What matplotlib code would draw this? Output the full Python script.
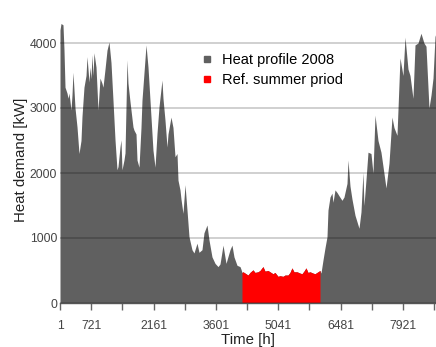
import matplotlib
matplotlib.use("Agg")
import matplotlib.pyplot as plt
from matplotlib.lines import Line2D
import numpy as np

plt.rcParams['font.family'] = ['Liberation Sans', 'DejaVu Sans']

hours = [1, 24, 70, 93, 117, 163, 186, 209, 255, 278, 301, 348, 394, 440, 486, 509,
         555, 602, 625, 671, 694, 717, 740, 763, 786, 833, 879, 925, 971, 994, 1041,
         1087, 1133, 1179, 1225, 1272, 1318, 1341, 1387, 1410, 1433, 1479, 1503, 1549,
         1572, 1618, 1641, 1687, 1710, 1757, 1780, 1826, 1872, 1895, 1941, 1988, 2034,
         2080, 2149, 2196, 2242, 2288, 2357, 2380, 2427, 2473, 2496, 2565, 2611, 2658,
         2704, 2727, 2773, 2796, 2842, 2889, 2935, 2981, 3050, 3096, 3166, 3212, 3281,
         3327, 3397, 3443, 3512, 3582, 3651, 3697, 3767, 3836, 3928, 3974, 4020, 4090,
         4159, 4182,
         4205, 4228, 4275, 4344, 4390, 4459, 4506, 4575, 4621, 4690, 4737, 4806, 4852,
         4921, 4967, 5037, 5083, 5152, 5199, 5268, 5314, 5360, 5406, 5476, 5545, 5591,
         5637, 5684, 5730, 5776, 5845, 5892, 5961, 6007,
         6030, 6076, 6123, 6169, 6192, 6238, 6284, 6307, 6354, 6400, 6446, 6515,
         6561, 6631, 6654, 6700, 6746, 6816, 6862, 6908, 6954, 7000, 7023, 7070, 7116,
         7185, 7231, 7278, 7347, 7416, 7463, 7532, 7601, 7670, 7716, 7786, 7855, 7924,
         7971, 8040, 8086, 8155, 8202, 8271, 8340, 8409, 8456, 8525, 8572, 8618, 8664,
         8687]
demand = [4200, 4300, 4280, 3900, 3320, 3230, 3150, 3230, 2970, 3200, 3550, 3000,
          2710, 2300, 2500, 2870, 3320, 3500, 3790, 3400, 3630, 3450, 3820, 3500, 3850,
          3630, 2970, 3460, 3380, 3320, 3600, 3890, 4015, 3700, 3120, 2510, 2050, 2100,
          2400, 2510, 2050, 2200, 2310, 3740, 3380, 3100, 2970, 2710, 2660, 2600, 2200,
          2090, 2700, 3120, 3540, 3970, 3630, 3120, 2350, 2090, 2610, 3020, 3430, 3150,
          2810, 2400, 2600, 2860, 2700, 2250, 2300, 1890, 1740, 1600, 1380, 1820, 1430,
          1020, 820, 770, 920, 780, 820, 1080, 1200, 970, 710, 610, 560, 600, 890, 610,
          820, 890, 710, 580, 560, 520,
          470, 480, 460, 430, 470, 510, 470, 480, 500, 560, 490, 500, 480, 450, 470,
          410, 420, 410, 430, 430, 470, 540, 480, 480, 460, 450, 490, 540, 470, 480,
          460, 450, 480, 500,
          460, 660, 850, 1020, 1430, 1630, 1690, 1550, 1740, 1700, 1650, 1580, 1630,
          1840, 2200, 1800, 1600, 1350, 1250, 1150, 1400, 2010, 1500, 1900, 2320, 2300,
          2000, 2890, 2500, 2320, 2100, 1770, 2150, 2860, 2700, 2580, 3770, 3500, 4090,
          3600, 3500, 3150, 3970, 4000, 4150, 4000, 3950, 3000, 3200, 3460, 4100,
          4150]

summer_start, summer_end = 4205, 6007

tick_labels = [1, 721, 2161, 3601, 5041, 6481, 7921]
minor_ticks = [1441, 2881, 4321, 5761, 7201, 8641]
yticks = [0, 1000, 2000, 3000, 4000]

h = np.array(hours)
d = np.array(demand)

fig = plt.figure(figsize=(4.36, 3.47), dpi=100)
ax = fig.add_axes([60/436, 44/347, 376/436, 286/347])

gray = '#606060'
ax.fill_between(h, 0, d, color=gray, lw=0, zorder=1)
mask = (h >= summer_start) & (h <= summer_end)
ax.fill_between(h[mask], 0, d[mask], color='#ff0000', lw=0, zorder=2)

ax.set_xlim(1, 8687)
ax.set_ylim(0, 4400)
ax.set_yticks(yticks)
ax.set_xticks(tick_labels)
ax.set_xticklabels([str(t) for t in tick_labels])
ax.set_xticks(minor_ticks, minor=True)

ax.grid(axis='y', color='k', alpha=0.2, lw=1.3, zorder=3)
ax.set_axisbelow(False)
for s in ['top', 'right', 'left']:
    ax.spines[s].set_visible(False)
ax.spines['bottom'].set_color('#555555')
ax.spines['bottom'].set_linewidth(1.0)
ax.spines['bottom'].set_zorder(4)

ax.tick_params(axis='y', length=0, pad=2, labelsize=8.8, labelcolor='#444444')
ax.tick_params(axis='x', which='both', length=5, width=1, color='#666666',
               pad=7, labelsize=8.8, labelcolor='#444444')

ax.set_xlabel('Time [h]', fontsize=10.8, color='#222222', labelpad=1)
ax.set_ylabel('Heat demand [kW]', fontsize=10.8, color='#222222', labelpad=1)

handles = [Line2D([], [], marker='s', ls='', color=gray, markersize=5),
           Line2D([], [], marker='s', ls='', color='#ff0000', markersize=5)]
ax.legend(handles, ['Heat profile 2008', 'Ref. summer priod'],
          loc='upper left', bbox_to_anchor=(0.36, 0.895), frameon=False,
          fontsize=10.5, handlelength=0.8, handletextpad=0.6, labelspacing=0.4,
          borderaxespad=0)

fig.savefig('out.png', dpi=100)
